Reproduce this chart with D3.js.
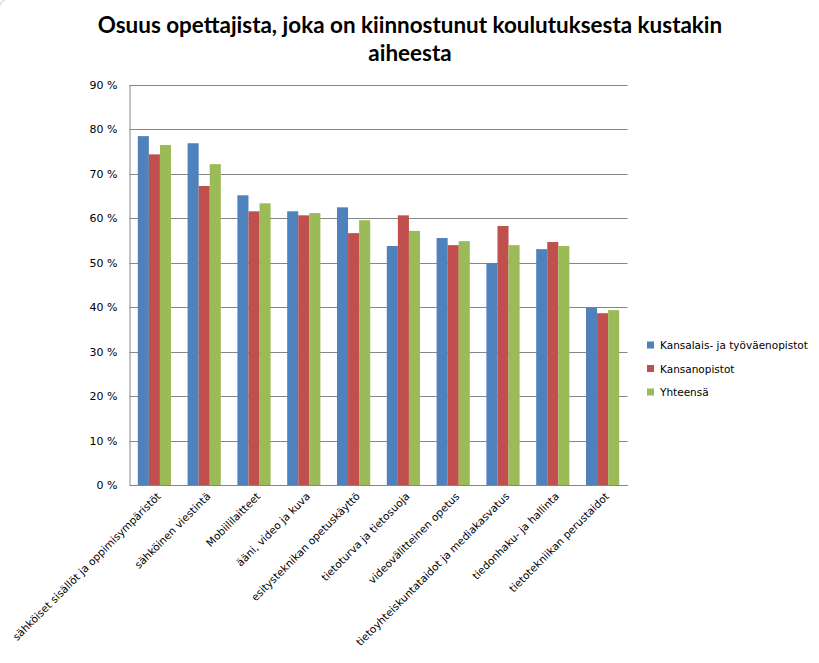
<!DOCTYPE html>
<html><head><meta charset="utf-8">
<script src="https://cdn.jsdelivr.net/npm/d3@7"></script>
<style>body{margin:0;background:#fff}svg{display:block}</style>
</head><body>
<svg id="c" width="819" height="663"></svg>
<script>
const categories = ["sähköiset sisällöt ja oppimisympäristöt","sähköinen viestintä","Mobiililaitteet","ääni, video ja kuva","esitysteknikan opetuskäyttö","tietoturva ja tietosuoja","videovälitteinen opetus","tietoyhteiskuntataidot ja mediakasvatus","tiedonhaku- ja hallinta","tietotekniikan perustaidot"];
const seriesNames = ["Kansalais- ja työväenopistot","Kansanopistot","Yhteensä"];
const kansalais = [78.4,76.8,65.1,61.5,62.4,53.7,55.5,49.9,53.0,39.8];
const kansan = [74.3,67.2,61.5,60.6,56.6,60.6,53.9,58.2,54.6,38.6];
const yhteensa = [76.4,72.1,63.3,61.1,59.5,57.1,54.8,53.9,53.7,39.3];
const yTicks = [0,10,20,30,40,50,60,70,80,90];
const colors = ["#4F81BD","#C0504D","#9BBB59"];
const series = [kansalais,kansan,yhteensa];

const svg = d3.select("#c");
svg.append("rect").attr("x",-0.5).attr("y",-0.5).attr("width",900).attr("height",800).attr("rx",8)
  .attr("fill","#fff").attr("stroke","#c8c8c8");

const L=129.5, R=627.5, T=84.5, B=485;
const y = d3.scaleLinear().domain([0,90]).range([B,T]);
const x0 = d3.scaleBand().domain(categories).range([L,R]).paddingInner(1/3).paddingOuter(1/6);
const x1 = d3.scaleBand().domain([0,1,2]).range([0,x0.bandwidth()]);

// gridlines
svg.append("g").selectAll("line").data(yTicks).join("line")
  .attr("x1",L).attr("x2",R).attr("y1",d=>Math.round(y(d))+0.5).attr("y2",d=>Math.round(y(d))+0.5)
  .attr("stroke","#868686").attr("stroke-width",1);

// bars
const g = svg.append("g");
categories.forEach((c,i)=>{
  series.forEach((s,j)=>{
    g.append("rect").attr("x",x0(c)+x1(j)).attr("width",x1.bandwidth())
      .attr("y",y(s[i])).attr("height",B-y(s[i])).attr("fill",colors[j]);
  });
});

// y axis
const ya = svg.append("g").attr("transform",`translate(${L},0)`)
  .call(d3.axisLeft(y).tickValues(yTicks).tickSize(0).tickPadding(12).tickFormat(d=>d+" %"));
ya.select(".domain").attr("stroke","#868686");
ya.selectAll("text").attr("font-family","DejaVu Sans, Verdana, sans-serif").attr("font-size","11px").attr("fill","#000");

// x axis
const xa = svg.append("g").attr("transform",`translate(0,${B})`)
  .call(d3.axisBottom(x0).tickSize(0).tickFormat(""));
xa.select(".domain").attr("stroke","#868686");
svg.append("g").selectAll("text").data(categories).join("text")
  .attr("transform",d=>`translate(${x0(d)+x0.bandwidth()/2+7},${B+12}) rotate(-45)`)
  .attr("text-anchor","end").attr("font-family","DejaVu Sans, Verdana, sans-serif")
  .attr("font-size","10.5px").attr("fill","#000").text(d=>d);

// title
const title = svg.append("text").attr("text-anchor","middle").attr("font-family","Lato, Carlito, sans-serif")
  .attr("font-weight","bold").attr("fill","#000");
title.append("tspan").attr("x",410).attr("y",33).text("Osuus opettajista, joka on kiinnostunut koulutuksesta kustakin");
title.append("tspan").attr("x",410).attr("y",61).text("aiheesta");
title.attr("font-size","20px");
const w = title.select("tspan").node().getComputedTextLength();
title.attr("font-size",(20*625/w)+"px");

// legend
const lg = svg.append("g").attr("transform","translate(647,345)");
seriesNames.forEach((n,i)=>{
  const r = lg.append("g").attr("transform",`translate(0,${i*23.5})`);
  r.append("rect").attr("x",0).attr("y",-3.5).attr("width",7).attr("height",7).attr("fill",colors[i]);
  r.append("text").attr("x",13).attr("y",4).attr("font-family","DejaVu Sans, Tahoma, sans-serif")
    .attr("font-size","10.5px").attr("fill","#000").text(n);
});
</script>
</body></html>
